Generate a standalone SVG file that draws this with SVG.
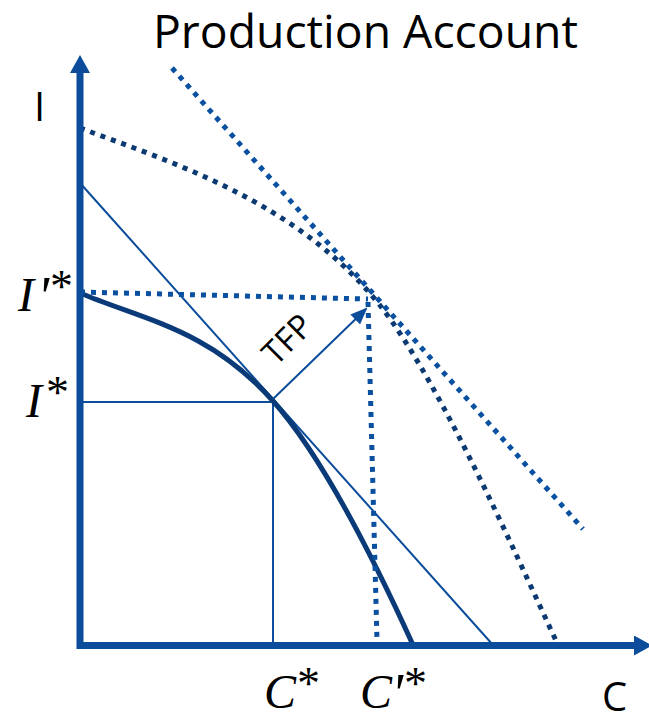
<svg xmlns="http://www.w3.org/2000/svg" width="649" height="716" viewBox="0 0 649 716">
<style>
.txt{font-family:"Open Sans","Liberation Sans",sans-serif;fill:#000}
.math{font-family:"Liberation Serif",serif;font-style:italic;fill:#000}
.star{font-style:normal;font-size:46px}
.prime{font-style:italic;font-size:56px}
.axis{stroke:#0b4c9b;stroke-width:7;fill:none}
.thin{stroke:#0b4c9b;stroke-width:2;fill:none}
.ppf{stroke:#0b3a78;stroke-width:5;fill:none}
.dotA{stroke:#0b3a73;stroke-width:5;stroke-dasharray:5 6;fill:none}
.dotB{stroke:#0a50a0;stroke-width:5;stroke-dasharray:5 6;fill:none}
</style>
<defs>
<marker id="axisHead" markerUnits="userSpaceOnUse" markerWidth="18" markerHeight="20" viewBox="0 0 18 20" refX="5" refY="10" orient="auto"><path d="M0,0 L18,10 L0,20 z" fill="#0b4c9b"/></marker>
<marker id="tfpHead" markerUnits="userSpaceOnUse" markerWidth="17" markerHeight="14" viewBox="0 0 17 14" refX="15" refY="7" orient="auto"><path d="M0,0 L17,7 L0,14 z" fill="#0b4c9b"/></marker>
</defs>
<rect width="649" height="716" fill="#fff"/>
<g id="title"><text class="txt" x="153" y="48" font-size="46" textLength="425" lengthAdjust="spacingAndGlyphs">Production Account</text></g>
<g id="connectors">
<line class="thin" x1="80" y1="402" x2="273" y2="402"/>
<line class="thin" x1="273" y1="402" x2="273" y2="645"/>
<line class="thin" x1="80" y1="183" x2="493" y2="645"/>
<path class="ppf" d="M80,293 C144,320 209,329 273,401 C323,457 378,568 413,645"/>
<path class="dotA" d="M80,128 C176,163.5 287,200 367,290 C430,358 513,549 558,645"/>
<line class="dotB" x1="172" y1="68" x2="583" y2="529"/>
<line class="dotB" x1="80" y1="292" x2="368" y2="299"/>
<line class="dotB" x1="368" y1="302" x2="377" y2="640"/>
<line class="thin" x1="273" y1="399" x2="366" y2="309" marker-end="url(#tfpHead)"/>
</g>
<g id="axes">
<line class="axis" x1="80" y1="649" x2="80" y2="68" marker-end="url(#axisHead)"/>
<line class="axis" x1="77" y1="645.5" x2="639" y2="645.5" marker-end="url(#axisHead)"/>
</g>
<g id="labels">
<text class="txt" x="39.5" y="121" font-size="40" text-anchor="middle">I</text>
<text class="txt" x="614.5" y="711" font-size="40" text-anchor="middle">C</text>
<text class="txt" transform="translate(287,339) rotate(-45)" x="0" y="12" font-size="33" text-anchor="middle">TFP</text>
<text class="math" x="18" y="311" font-size="48">I<tspan class="prime" x="37" y="316">'</tspan><tspan class="star" x="50" y="302">*</tspan></text>
<text class="math" x="26" y="417" font-size="48">I<tspan class="star" x="46" y="408">*</tspan></text>
<text class="math" x="264" y="708" font-size="48">C<tspan class="star" x="297" y="699">*</tspan></text>
<text class="math" x="360" y="708" font-size="48">C<tspan class="prime" x="391" y="713">'</tspan><tspan class="star" x="404" y="699">*</tspan></text>
</g>
</svg>
